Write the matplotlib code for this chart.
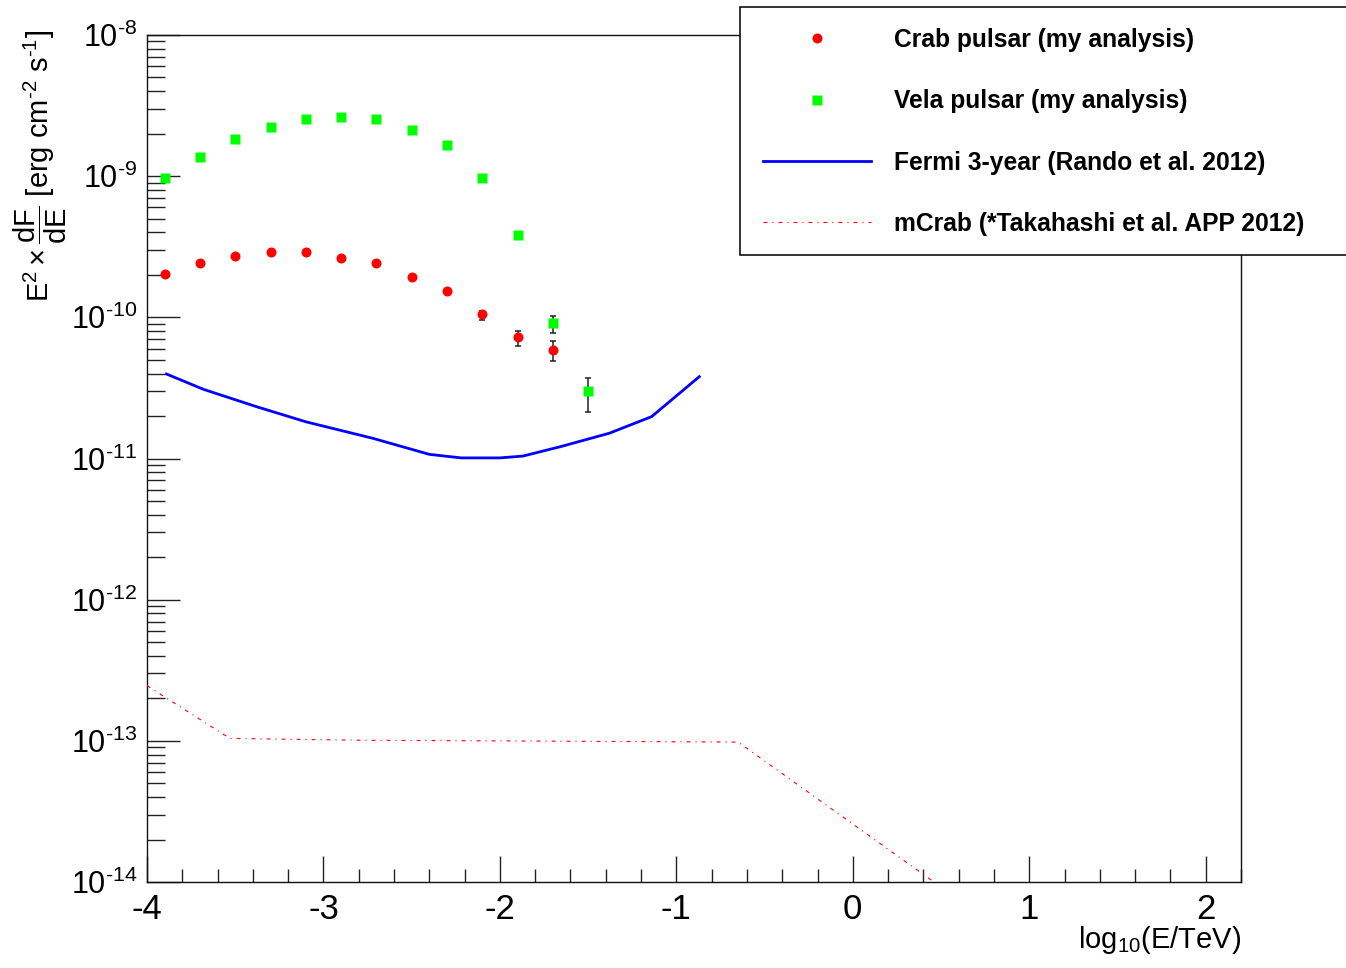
import numpy as np
import matplotlib
matplotlib.use("Agg")
import matplotlib.pyplot as plt
from matplotlib.ticker import MultipleLocator, LogLocator, FixedLocator, FuncFormatter, NullFormatter
from matplotlib.patches import Rectangle
from matplotlib.lines import Line2D

plt.rcParams['font.family'] = ['Liberation Sans', 'DejaVu Sans']
plt.rcParams['mathtext.fontset'] = 'custom'
plt.rcParams['mathtext.rm'] = 'Liberation Sans'
plt.rcParams['mathtext.it'] = 'Liberation Sans:italic'
plt.rcParams['mathtext.bf'] = 'Liberation Sans:bold'
plt.rcParams['axes.unicode_minus'] = False

# === Crab pulsar (my analysis) ===
crab_logE = [-3.9, -3.7, -3.5, -3.3, -3.1, -2.9, -2.7, -2.5, -2.3, -2.1, -1.9, -1.7]
crab_flux = [2.02e-10, 2.41e-10, 2.71e-10, 2.89e-10, 2.89e-10, 2.63e-10, 2.41e-10,
             1.92e-10, 1.54e-10, 1.05e-10, 7.22e-11, 5.87e-11]
crab_err_lo = [0, 0, 0, 0, 0, 0, 0, 0, 0, 0.9e-11, 0.92e-11, 0.96e-11]
crab_err_hi = [0, 0, 0, 0, 0, 0, 0, 0, 0, 0.5e-11, 0.78e-11, 0.96e-11]

# === Vela pulsar (my analysis) ===
vela_logE = [-3.9, -3.7, -3.5, -3.3, -3.1, -2.9, -2.7, -2.5, -2.3, -2.1, -1.9, -1.7, -1.5]
vela_flux = [9.75e-10, 1.36e-9, 1.82e-9, 2.23e-9, 2.54e-9, 2.61e-9, 2.54e-9, 2.12e-9,
             1.67e-9, 9.75e-10, 3.81e-10, 9.07e-11, 3.02e-11]
vela_err_lo = [0, 0, 0, 0, 0, 0, 0, 0, 0, 0, 0, 1.36e-11, 0.87e-11]
vela_err_hi = [0, 0, 0, 0, 0, 0, 0, 0, 0, 0, 0, 1.15e-11, 0.72e-11]

# === Fermi 3-year sensitivity ===
fermi_logE = [-3.89, -3.68, -3.38, -3.10, -2.72, -2.40, -2.22, -2.00, -1.87, -1.66, -1.38, -1.14, -0.87]
fermi_flux = [3.97e-11, 3.09e-11, 2.33e-11, 1.82e-11, 1.39e-11, 1.07e-11, 1.01e-11,
              1.01e-11, 1.04e-11, 1.21e-11, 1.51e-11, 1.98e-11, 3.80e-11]

# === mCrab ===
mcrab_logE = [-4.0, -3.53, -2.80, -0.65, 0.60]
mcrab_flux = [2.46e-13, 1.04e-13, 1.01e-13, 9.8e-14, 7.5e-15]

W, H = 1346, 968
fig = plt.figure(figsize=(W / 100, H / 100), dpi=100)
ax = fig.add_axes([147 / W, 1 - 882 / H, (1241 - 147) / W, (882 - 35) / H])

ax.plot(fermi_logE, fermi_flux, color='#0000ff', lw=2.0, zorder=3)
ax.plot(mcrab_logE, mcrab_flux, color='#ff0000', lw=0.8,
        linestyle=(0, (3.5, 4.5, 1, 4.5)), zorder=3)

ax.errorbar(crab_logE, crab_flux, yerr=[crab_err_lo, crab_err_hi], fmt='none',
            ecolor='#222222', elinewidth=1.1, capsize=2.4, capthick=1.1, zorder=4)
ax.errorbar(vela_logE, vela_flux, yerr=[vela_err_lo, vela_err_hi], fmt='none',
            ecolor='#222222', elinewidth=1.1, capsize=2.4, capthick=1.1, zorder=4)
ax.plot(crab_logE, crab_flux, 'o', color='#ff0000', ms=7.2, mec='none', zorder=5)
ax.plot(vela_logE, vela_flux, 's', color='#00ff00', ms=7.7, mec='none', zorder=5)

ax.set_yscale('log')
ax.set_xlim(-4, 2.2)
ax.set_ylim(1e-14, 1e-8)

ax.xaxis.set_major_locator(FixedLocator([-4, -3, -2, -1, 0, 1, 2]))
ax.xaxis.set_minor_locator(MultipleLocator(0.2))
ax.yaxis.set_major_locator(LogLocator(base=10, numticks=20))
ax.yaxis.set_minor_locator(LogLocator(base=10, subs=np.arange(2, 10), numticks=20))
ax.yaxis.set_minor_formatter(NullFormatter())
ax.yaxis.set_major_formatter(FuncFormatter(
    lambda v, p: r'$10^{\text{%d}}$' % int(round(np.log10(v)))))
ax.xaxis.set_major_formatter(FuncFormatter(lambda v, p: '%d' % int(round(v))))

ax.tick_params(axis='x', which='major', direction='in', length=18.5, width=1.0,
               color='#222222', labelsize=25, pad=8, top=False)
ax.tick_params(axis='x', which='minor', direction='in', length=9.6, width=1.0,
               color='#222222', top=False)
ax.tick_params(axis='y', which='major', direction='in', length=23.8, width=1.0,
               color='#222222', labelsize=22, pad=7, right=False)
ax.tick_params(axis='y', which='minor', direction='in', length=12.7, width=1.0,
               color='#222222', right=False)
for s in ax.spines.values():
    s.set_linewidth(1.0)
    s.set_color('#111111')

fig.text(1241 / W, 1 - 940 / H, r'log$_{10}$(E/TeV)', ha='right', va='center', fontsize=21)
fig.text(40 / W, 1 - 30 / H,
         r'E$^{2}\times\dfrac{\mathrm{dF}}{\mathrm{dE}}$ [erg cm$^{\text{-2}}$ s$^{\text{-1}}$]',
         ha='center', va='top', rotation=90, fontsize=21)

# legend box (runs past the right edge like the original)
fig.patches.append(Rectangle((740 / W, 1 - 255 / H), 0.5, (255 - 7) / H,
                             transform=fig.transFigure, facecolor='white',
                             edgecolor='#111111', lw=1.2, zorder=4))
handles = [
    Line2D([], [], ls='none', marker='o', color='#ff0000', ms=7.2, mec='none'),
    Line2D([], [], ls='none', marker='s', color='#00ff00', ms=7.7, mec='none'),
    Line2D([], [], color='#0000ff', lw=2.0),
    Line2D([], [], color='#ff0000', lw=0.8, linestyle=(0, (3.5, 4.5, 1, 4.5))),
]
labels = ['Crab pulsar (my analysis)', 'Vela pulsar (my analysis)',
          'Fermi 3-year (Rando et al. 2012)', 'mCrab (*Takahashi et al. APP 2012)']
leg = fig.legend(handles, labels, loc='upper left', bbox_to_anchor=(763 / W, 1 - 28 / H),
                 frameon=False, prop={'weight': 'bold', 'size': 17.7},
                 handlelength=4.4, handletextpad=0.93, labelspacing=1.52,
                 borderpad=0, borderaxespad=0)
leg.set_zorder(6)

fig.savefig('out.png', dpi=100)
